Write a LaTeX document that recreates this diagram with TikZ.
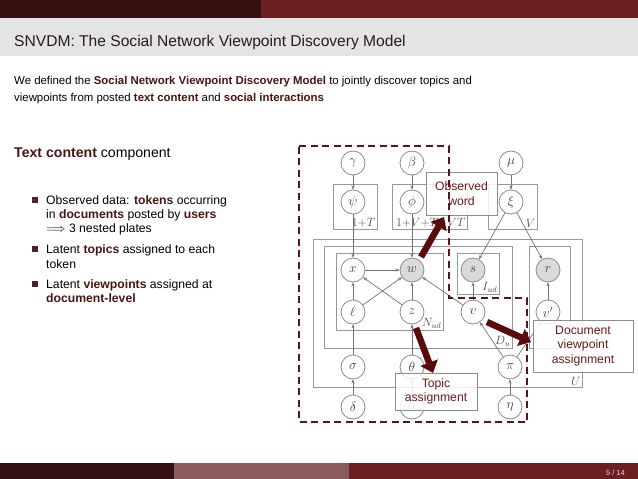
\RequirePackage{fix-cm}
\documentclass[tikz,border=0pt]{standalone}
\usepackage{fontspec}
\setmainfont{Liberation Sans}
\usetikzlibrary{arrows.meta}
\definecolor{darkbar}{HTML}{341010}
\definecolor{redbar}{HTML}{6B1F22}
\definecolor{midbar}{HTML}{8C5A5A}
\definecolor{titlebg}{HTML}{E4E4E4}
\definecolor{titlefg}{HTML}{2E1A1A}
\definecolor{alertc}{HTML}{4A1414}
\definecolor{calloutfg}{HTML}{6B1A1A}
\definecolor{dashred}{HTML}{5E1414}
\definecolor{fatred}{HTML}{5A0A0A}
\definecolor{pgmgray}{HTML}{8C8C8C}
\definecolor{shadec}{HTML}{DADADA}
\definecolor{bulletc}{HTML}{442828}
\newcommand{\alrt}[1]{\textbf{\color{alertc}#1}}
\begin{document}
\begin{tikzpicture}[x=1pt,y=-1pt,
  var/.style={circle, draw=pgmgray, line width=0.8pt, minimum size=24pt, inner sep=0pt, font=\fontsize{13.5}{13.5}\selectfont, text=black!75},
  obs/.style={var, fill=shadec},
  plate/.style={draw=pgmgray!90, line width=0.8pt},
  edge/.style={draw=black!55, line width=0.7pt, -{Stealth[length=4pt,width=3.2pt]}},
  platelabel/.style={anchor=south east, inner sep=1.5pt, font=\fontsize{12}{12}\selectfont, text=black!70},
  callout/.style={draw=black!45, line width=0.8pt, fill=white, fill opacity=0.85, text opacity=1, text=calloutfg, align=center, font=\fontsize{12.2}{14.5}\selectfont, inner sep=0pt},
  fat/.style={draw=fatred, line width=6.5pt, -{Triangle[length=11pt,width=18pt]}},
  txt/.style={anchor=base west, inner sep=0pt},
  bul/.style={fill=bulletc, minimum size=6.3pt, inner sep=0pt}
]
\useasboundingbox (0,0) rectangle (638,479);
\fill[white] (0,0) rectangle (638,479);
% slide frame
\fill[darkbar] (0,0) rectangle (261,18);
\fill[redbar] (261,0) rectangle (638,18);
\fill[titlebg] (0,18) rectangle (638,56);
\fill[darkbar] (0,463) rectangle (174,479);
\fill[midbar] (174,463) rectangle (349,479);
\fill[redbar] (349,463) rectangle (638,479);
\node[anchor=base east, inner sep=0pt, font=\fontsize{7.5}{8}\selectfont, text=white!80!red] (page) at (625,475) {5 / 14};
\node[txt, font=\fontsize{15.6}{18}\selectfont, text=titlefg] (title) at (14,46) {SNVDM: The Social Network Viewpoint Discovery Model};
\node[txt, font=\fontsize{11.4}{14}\selectfont] (body1) at (14,84) {We defined the \alrt{Social Network Viewpoint Discovery Model} to jointly discover topics and};
\node[txt, font=\fontsize{11.4}{14}\selectfont] (body2) at (14,101) {viewpoints from posted \alrt{text content} and \alrt{social interactions}};
\node[txt, font=\fontsize{14.1}{16}\selectfont] (tcc) at (14,157) {\alrt{Text content} component};
% bullets
\begin{scope}[every node/.append style={font=\fontsize{12.2}{14}\selectfont}]
\node[bul] (b1) at (35.3,200) {};
\node[txt] (l1) at (46,204) {Observed data: \alrt{tokens} occurring};
\node[txt] (l2) at (46,218) {in \alrt{documents} posted by \alrt{users}};
\node[txt] (l3) at (46,232) {$\Longrightarrow$ 3 nested plates};
\node[bul] (b2) at (35.3,249) {};
\node[txt] (l4) at (46,253) {Latent \alrt{topics} assigned to each};
\node[txt] (l5) at (46,268) {token};
\node[bul] (b3) at (35.3,284) {};
\node[txt] (l6) at (46,288) {Latent \alrt{viewpoints} assigned at};
\node[txt] (l7) at (46,302) {\alrt{document-level}};
\end{scope}
% plates
\draw[plate] (333,184) rectangle (377,229);
\node[platelabel] (pl1) at (377,229) {$1{+}T$};
\draw[plate] (392,184) rectangle (467,229);
\node[platelabel] (pl2) at (467,229) {$1{+}V{+}T{+}VT$};
\draw[plate] (488,184) rectangle (537,229);
\node[platelabel] (pl3) at (537,229) {$V$};
\draw[plate] (313,239) rectangle (582,387);
\node[platelabel] (pl4) at (582,387) {$U$};
\draw[plate] (324,246) rectangle (512,348);
\node[platelabel] (pl5) at (512,348) {$D_u$};
\draw[plate] (336,253) rectangle (443,330);
\node[platelabel] (pl6) at (443,330) {$N_{ud}$};
\draw[plate] (457,253) rectangle (499,294);
\node[platelabel] (pl7) at (499,294) {$I_{ud}$};
\draw[plate] (529,246) rectangle (570,348);
% variables
\node[var] (gamma) at (353,163) {$\gamma$};
\node[var] (beta) at (412,163) {$\beta$};
\node[var] (mu) at (511,163) {$\mu$};
\node[var] (psi) at (353,202) {$\psi$};
\node[var] (phi) at (412,202) {$\phi$};
\node[var] (xi) at (511,202) {$\xi$};
\node[var] (x) at (353,270) {$x$};
\node[obs] (w) at (412,270) {$w$};
\node[obs] (s) at (473,270) {$s$};
\node[obs] (r) at (548,270) {$r$};
\node[var] (ell) at (353,312) {$\ell$};
\node[var] (z) at (412,312) {$z$};
\node[var] (v) at (473,312) {$v$};
\node[var] (vp) at (548,312) {$v'$};
\node[var] (sigma) at (353,367) {$\sigma$};
\node[var] (theta) at (412,367) {$\theta$};
\node[var] (pi) at (510,367) {$\pi$};
\node[var] (delta) at (353,407) {$\delta$};
\node[var] (alpha) at (412,407) {$\alpha$};
\node[var] (eta) at (510,407) {$\eta$};
% edges
\draw[edge] (gamma) -- (psi);
\draw[edge] (beta) -- (phi);
\draw[edge] (mu) -- (xi);
\draw[edge] (psi) -- (x);
\draw[edge] (phi) -- (w);
\draw[edge] (xi) -- (s);
\draw[edge] (xi) -- (r);
\draw[edge] (x) -- (w);
\draw[edge] (ell) -- (x);
\draw[edge] (ell) -- (w);
\draw[edge] (z) -- (x);
\draw[edge] (z) -- (w);
\draw[edge] (v) -- (w);
\draw[edge] (v) -- (s);
\draw[edge] (vp) -- (r);
\draw[edge] (sigma) -- (ell);
\draw[edge] (theta) -- (z);
\draw[edge] (delta) -- (sigma);
\draw[edge] (alpha) -- (theta);
\draw[edge] (eta) -- (pi);
\draw[edge] (pi) -- (v);
\draw[edge] (pi) -- (vp);
% callouts
\node[callout, minimum width=71pt, minimum height=43pt] (obsw) at (461.5,193.5) {Observed\\word};
\node[callout, minimum width=82pt, minimum height=37pt] (topa) at (436,391.5) {Topic\\assignment};
\node[callout, minimum width=100pt, minimum height=52pt] (docv) at (583,346) {Document\\viewpoint\\assignment};
% dashed region
\draw[dashred, line width=2pt, dash pattern=on 7pt off 4.5pt] (299,146) -- (449,146) -- (449,298) -- (527,298) -- (527,422) -- (299,422) -- cycle;
% fat arrows
\coordinate (fa1) at (421,257);
\coordinate (fa1t) at (444,217);
\coordinate (fa2) at (416,328);
\coordinate (fa2t) at (433,373);
\coordinate (fa3) at (487,322);
\coordinate (fa3t) at (531,342);
\draw[fat] (fa1) -- (fa1t);
\draw[fat] (fa2) -- (fa2t);
\draw[fat] (fa3) -- (fa3t);
\end{tikzpicture}
\end{document}
